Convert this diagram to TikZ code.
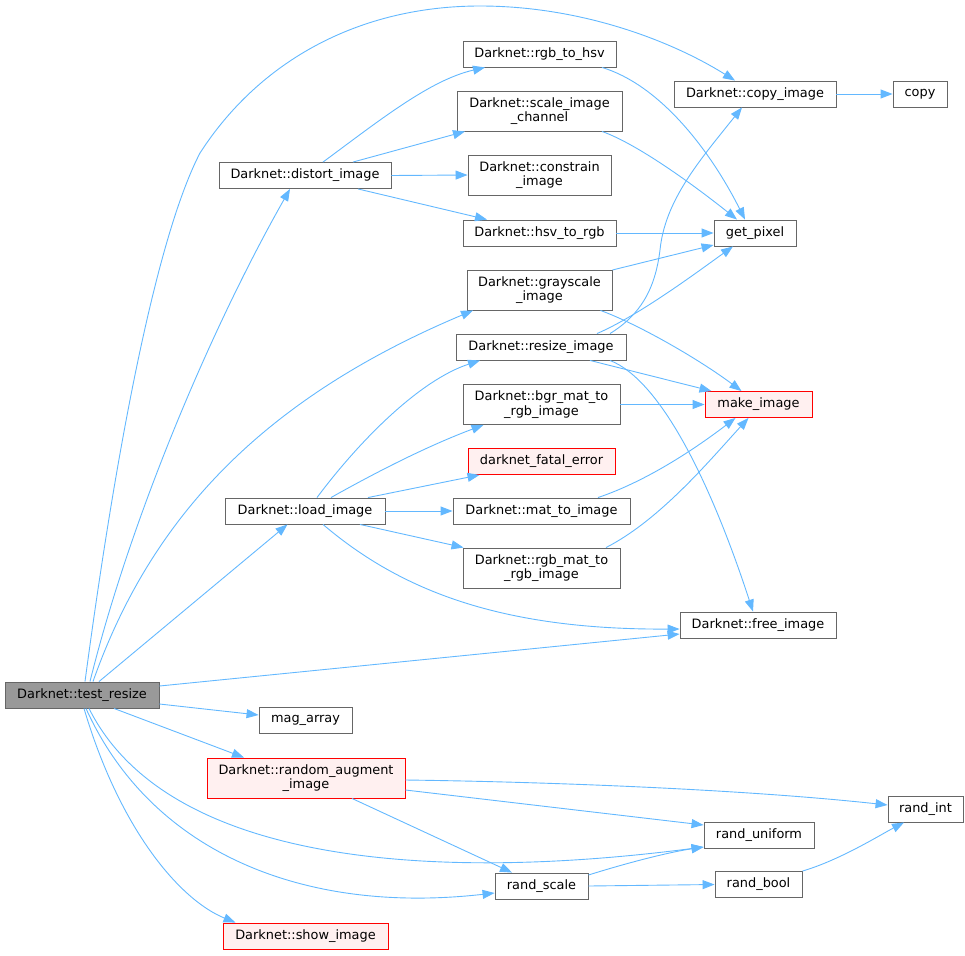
\documentclass[tikz,border=0pt]{standalone}
\usepackage{fontspec}
\setmainfont{DejaVu Sans}
\usetikzlibrary{arrows.meta}
\definecolor{edgeblue}{HTML}{63B8FF}
\definecolor{nodeborder}{HTML}{666666}
\definecolor{hlfill}{HTML}{FFF0F0}
\definecolor{hlborder}{HTML}{FF0000}
\definecolor{curfill}{HTML}{999999}
\tikzset{
  nd/.style={draw=nodeborder, fill=white, line width=0.9pt, inner sep=0pt,
    minimum height=26pt, align=center, font=\fontsize{12.9}{14.6}\selectfont},
  twoline/.style={minimum height=40pt},
  hl/.style={draw=hlborder, fill=hlfill},
  cur/.style={fill=curfill},
  edge/.style={draw=edgeblue, line width=0.9pt, -{Triangle[length=12pt,width=9pt]}}
}
\begin{document}
\begin{tikzpicture}[x=1pt,y=-1pt]
\useasboundingbox (0,0) rectangle (965,955);
% nodes
\node[nd,cur,minimum width=154pt] (tr) at (82,695) {Darknet::test\_resize};
\node[nd,minimum width=172pt] (dist) at (305,175.5) {Darknet::distort\_image};
\node[nd,minimum width=153pt] (rgbhsv) at (539.5,54) {Darknet::rgb\_to\_hsv};
\node[nd,twoline,minimum width=165pt] (scale) at (539.5,111) {Darknet::scale\_image\\\_channel};
\node[nd,twoline,minimum width=143pt] (constr) at (539.5,175) {Darknet::constrain\\\_image};
\node[nd,minimum width=153pt] (hsvrgb) at (539.5,233) {Darknet::hsv\_to\_rgb};
\node[nd,twoline,minimum width=145pt] (gray) at (539.5,290) {Darknet::grayscale\\\_image};
\node[nd,minimum width=170pt] (resize) at (541,347) {Darknet::resize\_image};
\node[nd,twoline,minimum width=157pt] (bgr) at (541.5,404.5) {Darknet::bgr\_mat\_to\\\_rgb\_image};
\node[nd,hl,minimum width=147pt] (fatal) at (541.5,461.5) {darknet\_fatal\_error};
\node[nd,minimum width=177pt] (mat) at (541.5,511) {Darknet::mat\_to\_image};
\node[nd,twoline,minimum width=157pt] (rgbmat) at (541.5,568) {Darknet::rgb\_mat\_to\\\_rgb\_image};
\node[nd,minimum width=160pt] (load) at (305,511) {Darknet::load\_image};
\node[nd,minimum width=162pt] (copyimg) at (755,94) {Darknet::copy\_image};
\node[nd,minimum width=54pt] (copy) at (920,94) {copy};
\node[nd,minimum width=82pt] (getpix) at (755,233) {get\_pixel};
\node[nd,hl,minimum width=107pt] (make) at (758.5,404.5) {make\_image};
\node[nd,minimum width=156pt] (free) at (758,625) {Darknet::free\_image};
\node[nd,minimum width=93pt] (mag) at (305.5,720) {mag\_array};
\node[nd,hl,twoline,minimum width=198pt] (aug) at (306,778) {Darknet::random\_augment\\\_image};
\node[nd,minimum width=75pt] (rint) at (925.5,809) {rand\_int};
\node[nd,minimum width=110pt] (unif) at (759,835.5) {rand\_uniform};
\node[nd,minimum width=93pt] (rscale) at (541.5,886) {rand\_scale};
\node[nd,minimum width=87pt] (rbool) at (758.5,884.5) {rand\_bool};
\node[nd,hl,minimum width=165pt] (show) at (305.5,936) {Darknet::show\_image};
% edges from test_resize
\draw[edge] ([xshift=3pt]tr.north) .. controls (120,420) and (160,230) .. (200,153)
  .. controls (260,60) and (360,6) .. (480,6)
  .. controls (580,6) and (670,40) .. ([xshift=-20pt]copyimg.north);
\draw[edge] ([xshift=8pt]tr.north) .. controls (130,520) and (210,330) .. ([xshift=-15pt]dist.south);
\draw[edge] ([xshift=11pt]tr.north) .. controls (150,520) and (260,400) .. ([xshift=-66.5pt]gray.south);
\draw[edge] ([xshift=17pt]tr.north) -- ([xshift=-17.5pt]load.south);
\draw[edge] ([yshift=9pt]tr.east) -- ([yshift=-9pt]free.west);
\draw[edge] ([yshift=-9pt]tr.east) -- ([yshift=5pt]mag.west);
\draw[edge] ([xshift=32pt]tr.south) -- ([xshift=-62pt]aug.north);
\draw[edge] ([xshift=7pt]tr.south) .. controls (170,870) and (450,880) .. ([yshift=-11.5pt]unif.west);
\draw[edge] ([xshift=4pt]tr.south) .. controls (150,850) and (300,915) .. ([yshift=-7pt]rscale.west);
\draw[edge] ([xshift=2pt]tr.south) .. controls (120,830) and (180,900) .. ([xshift=-70pt]show.north);
% distort_image
\draw[edge] ([xshift=18pt]dist.north) .. controls (380,120) and (430,80) .. ([xshift=-54.5pt]rgbhsv.south);
\draw[edge] ([xshift=48pt]dist.north) -- ([xshift=-74.5pt]scale.south);
\draw[edge] (dist.east) -- (constr.west);
\draw[edge] ([xshift=53pt]dist.south) -- ([xshift=-52.5pt]hsvrgb.north);
% to get_pixel
\draw[edge] ([xshift=62.5pt]rgbhsv.south) .. controls (660,85) and (710,150) .. ([xshift=-10pt]getpix.north);
\draw[edge] ([xshift=62.5pt]scale.south) .. controls (640,145) and (700,190) .. ([xshift=-18pt]getpix.north);
\draw[edge] (hsvrgb.east) -- (getpix.west);
\draw[edge] ([yshift=20pt]gray.east) -- ([yshift=-12pt]getpix.west);
\draw[edge] ([xshift=61pt]gray.south) .. controls (640,325) and (700,360) .. ([xshift=-17pt]make.north);
% resize_image
\draw[edge] ([xshift=56pt]resize.north) .. controls (640,315) and (700,270) .. ([xshift=-22pt]getpix.south);
\draw[edge] ([xshift=69pt]resize.north) .. controls (640,315) and (655,290) .. (660,250)
  .. controls (665,200) and (700,160) .. ([xshift=-13pt]copyimg.south);
\draw[edge] ([xshift=49pt]resize.south) -- ([xshift=-47pt]make.north);
\draw[edge] ([xshift=69pt]resize.south) .. controls (660,380) and (710,480) .. ([xshift=-5pt]free.north);
% to make_image
\draw[edge] (bgr.east) -- (make.west);
\draw[edge] ([xshift=56.5pt]mat.north) .. controls (650,480) and (700,445) .. ([xshift=-23pt]make.south);
\draw[edge] ([xshift=64.5pt]rgbmat.north) .. controls (660,520) and (710,460) .. ([xshift=-10pt]make.south);
% load_image
\draw[edge] ([xshift=12pt]load.north) .. controls (360,440) and (420,380) .. ([xshift=-61pt]resize.south);
\draw[edge] ([xshift=26pt]load.north) .. controls (380,470) and (430,445) .. ([xshift=-58pt]bgr.south);
\draw[edge] ([xshift=63pt]load.north) -- ([xshift=-62pt]fatal.south);
\draw[edge] (load.east) -- (mat.west);
\draw[edge] ([xshift=55pt]load.south) -- ([xshift=-78pt]rgbmat.north);
\draw[edge] ([xshift=18pt]load.south) .. controls (400,590) and (500,630) .. ([yshift=-4pt]free.west);
% copy
\draw[edge] (copyimg.east) -- (copy.west);
% random augment
\draw[edge] ([yshift=-2pt]aug.east) .. controls (560,782) and (750,790) .. ([yshift=4pt]rint.west);
\draw[edge] ([yshift=-12pt]aug.east) -- ([yshift=10.5pt]unif.west);
\draw[edge] ([xshift=46pt]aug.south) -- ([xshift=-29.5pt]rscale.north);
\draw[edge] ([yshift=11pt]rscale.east) .. controls (630,862) and (670,852) .. ([yshift=-11.5pt]unif.west);
\draw[edge] (rscale.east) -- (rbool.west);
\draw[edge] (rbool.north east) .. controls (840,860) and (880,835) .. ([xshift=-21.5pt]rint.south);
\end{tikzpicture}
\end{document}
